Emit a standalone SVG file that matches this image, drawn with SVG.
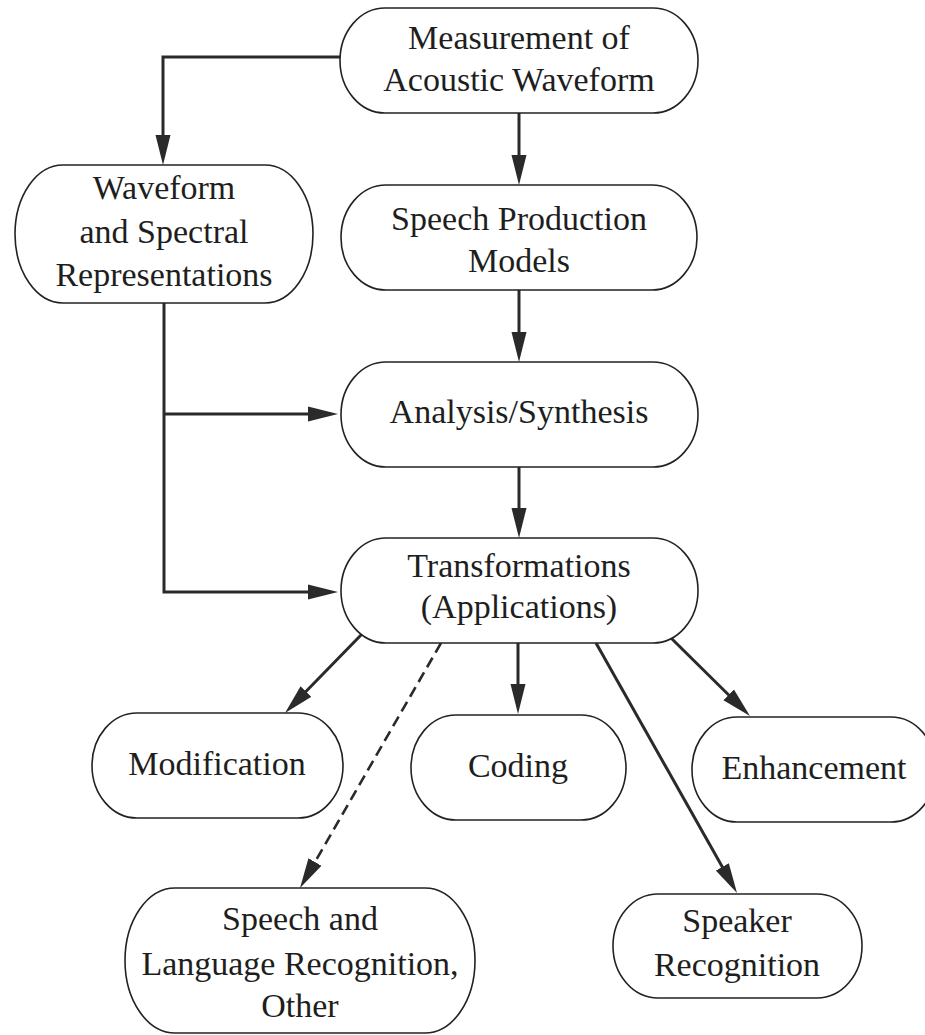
<svg xmlns="http://www.w3.org/2000/svg" width="925" height="1035" viewBox="0 0 925 1035">
<style>
.box{fill:#fff;stroke:#222;stroke-width:1.6}
.t{font-family:"Liberation Serif","Times New Roman",serif;font-size:34px;fill:#1e1e1e;text-anchor:middle}
.c{fill:none;stroke:#2a2a2a;stroke-width:3}
.d{fill:none;stroke:#2a2a2a;stroke-width:2.6;stroke-dasharray:11 6}
</style>
<defs>
<marker id="ah" markerUnits="userSpaceOnUse" markerWidth="30" markerHeight="16" refX="20" refY="8" orient="auto">
<path d="M0,0.5 L30,8 L0,15.5 z" fill="#2a2a2a" stroke="none"/>
</marker>
</defs>
<rect width="925" height="1035" fill="#fff"/>
<g id="connectors">
<path class="c" d="M340,57 H163 V155" marker-end="url(#ah)"/>
<path class="c" d="M519,113 V175" marker-end="url(#ah)"/>
<path class="c" d="M519,290 V352" marker-end="url(#ah)"/>
<path class="c" d="M519,467 V528" marker-end="url(#ah)"/>
<path class="c" d="M164,303 V592 H328" marker-end="url(#ah)"/>
<path class="c" d="M164,414 H328" marker-end="url(#ah)"/>
<path class="c" d="M362,634 L292,705.8" marker-end="url(#ah)"/>
<path class="d" d="M441,643 L305,879.3" marker-end="url(#ah)"/>
<path class="c" d="M518,643 V704" marker-end="url(#ah)"/>
<path class="c" d="M596,643 L732.1,884.3" marker-end="url(#ah)"/>
<path class="c" d="M670,637 L742.9,709" marker-end="url(#ah)"/>
</g>
<g id="n-measurement">
<rect class="box" x="340" y="8" width="358" height="105" rx="45" ry="52.5"/>
<text class="t" x="519" y="49">Measurement of</text>
<text class="t" x="519" y="91">Acoustic Waveform</text>
</g>
<g id="n-waveform">
<rect class="box" x="15" y="165" width="298" height="138" rx="48" ry="69"/>
<text class="t" x="164" y="199">Waveform</text>
<text class="t" x="164" y="243">and Spectral</text>
<text class="t" x="164" y="286">Representations</text>
</g>
<g id="n-speech-production">
<rect class="box" x="341" y="185" width="356" height="105" rx="45" ry="52.5"/>
<text class="t" x="519" y="230">Speech Production</text>
<text class="t" x="519" y="272">Models</text>
</g>
<g id="n-analysis">
<rect class="box" x="341" y="362" width="357" height="105" rx="45" ry="52.5"/>
<text class="t" x="519" y="423">Analysis/Synthesis</text>
</g>
<g id="n-transformations">
<rect class="box" x="341" y="538" width="357" height="105" rx="45" ry="52.5"/>
<text class="t" x="519" y="577">Transformations</text>
<text class="t" x="519" y="618">(Applications)</text>
</g>
<g id="n-modification">
<rect class="box" x="92" y="713" width="251" height="105" rx="45" ry="52.5"/>
<text class="t" x="217" y="775">Modification</text>
</g>
<g id="n-coding">
<rect class="box" x="411" y="715" width="215" height="105" rx="45" ry="52.5"/>
<text class="t" x="518" y="777">Coding</text>
</g>
<g id="n-enhancement">
<rect class="box" x="692" y="717" width="244" height="105" rx="45" ry="52.5"/>
<text class="t" x="814" y="779">Enhancement</text>
</g>
<g id="n-speech-language">
<rect class="box" x="125" y="888" width="350" height="145" rx="50" ry="72.5"/>
<text class="t" x="300" y="930">Speech and</text>
<text class="t" x="300" y="975">Language Recognition,</text>
<text class="t" x="300" y="1017">Other</text>
</g>
<g id="n-speaker">
<rect class="box" x="613" y="894" width="249" height="104" rx="45" ry="52"/>
<text class="t" x="737" y="932">Speaker</text>
<text class="t" x="737" y="976">Recognition</text>
</g>
</svg>
